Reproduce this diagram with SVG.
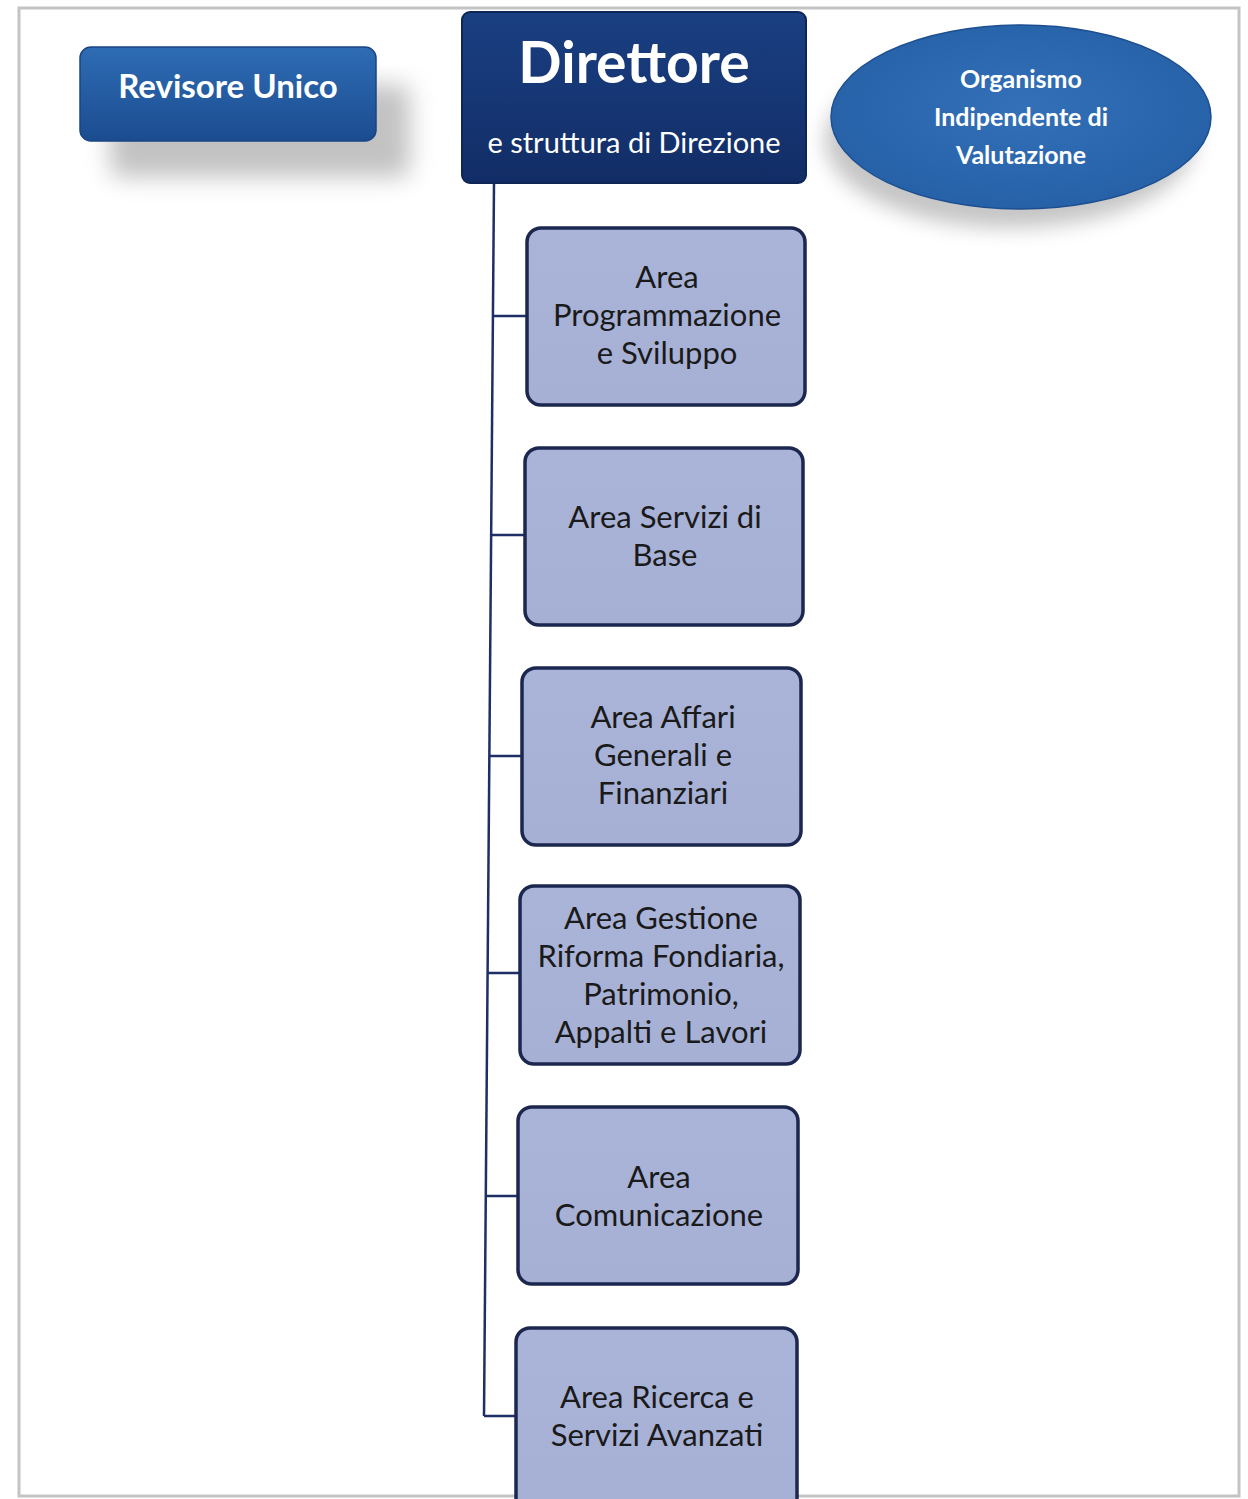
<svg xmlns="http://www.w3.org/2000/svg" width="1248" height="1499" viewBox="0 0 1248 1499">
<style>
.area rect{fill:url(#gArea);stroke:#1c2750;stroke-width:3.5}
.area text{font-family:Lato,"Liberation Sans",sans-serif;font-size:31px;fill:#1a1a1a;text-anchor:middle}
.wt{font-family:Lato,"Liberation Sans",sans-serif;font-weight:bold;fill:#ffffff;text-anchor:middle}
.conn{stroke:#1e2f66;stroke-width:2.5;fill:none}
</style>
<defs>
<linearGradient id="gRev" x1="0" y1="0" x2="0" y2="1">
<stop offset="0" stop-color="#2e6cb4"/><stop offset="1" stop-color="#1b4c90"/>
</linearGradient>
<linearGradient id="gDir" x1="0" y1="0" x2="0" y2="1">
<stop offset="0" stop-color="#1a3f82"/><stop offset="1" stop-color="#122d66"/>
</linearGradient>
<radialGradient id="gOiv" cx="0.5" cy="0.45" r="0.6">
<stop offset="0" stop-color="#3370b8"/><stop offset="1" stop-color="#2560a6"/>
</radialGradient>
<linearGradient id="gArea" x1="0" y1="0" x2="0" y2="1">
<stop offset="0" stop-color="#aab4d8"/><stop offset="1" stop-color="#a6b0d4"/>
</linearGradient>
<filter id="shRev" x="-20%" y="-20%" width="150%" height="180%">
<feGaussianBlur stdDeviation="12"/>
</filter>
<filter id="shOiv" x="-20%" y="-20%" width="140%" height="150%">
<feGaussianBlur stdDeviation="10"/>
</filter>
</defs>
<rect x="0" y="0" width="1248" height="1499" fill="#ffffff"/>
<rect x="19" y="8" width="1220" height="1488" fill="none" stroke="#c4c4c4" stroke-width="3"/>

<g id="connectors">
<path class="conn" d="M494 183 L484 1416"/>
<path class="conn" d="M493 316 H528 M491 535 H526 M490 756 H523 M488 973 H521 M486 1196 H519 M484 1416 H517"/>
</g>

<g id="revisore">
<rect x="110" y="85" width="300" height="92" rx="10" fill="#9a9a9a" opacity="0.6" filter="url(#shRev)"/>
<rect x="80" y="47" width="296" height="94" rx="11" fill="url(#gRev)" stroke="#1a4482" stroke-width="1.5"/>
<text class="wt" x="228" y="98" font-size="33">Revisore Unico</text>
</g>

<g id="direttore">
<rect x="462" y="12" width="344" height="171" rx="8" fill="url(#gDir)" stroke="#0e2656" stroke-width="2"/>
<text class="wt" x="634" y="83" font-size="57">Direttore</text>
<text x="634" y="153" font-family="Lato,'Liberation Sans',sans-serif" font-size="29" fill="#ffffff" text-anchor="middle">e struttura di Direzione</text>
</g>

<g id="oiv">
<ellipse cx="1010" cy="140" rx="185" ry="88" fill="#8c8c8c" opacity="0.5" filter="url(#shOiv)"/>
<ellipse cx="1021" cy="117" rx="190" ry="92" fill="url(#gOiv)" stroke="#1d4f90" stroke-width="1.5"/>
<text class="wt" x="1021" y="88" font-size="25">Organismo</text>
<text class="wt" x="1021" y="126" font-size="25">Indipendente di</text>
<text class="wt" x="1021" y="164" font-size="25">Valutazione</text>
</g>

<g id="area1" class="area">
<rect x="527" y="228" width="278" height="177" rx="14"/>
<text x="667" y="288">Area</text>
<text x="667" y="326">Programmazione</text>
<text x="667" y="364">e Sviluppo</text>
</g>

<g id="area2" class="area">
<rect x="525" y="448" width="278" height="177" rx="14"/>
<text x="665" y="528">Area Servizi di</text>
<text x="665" y="566">Base</text>
</g>

<g id="area3" class="area">
<rect x="522" y="668" width="279" height="177" rx="14"/>
<text x="663" y="728">Area Affari</text>
<text x="663" y="766">Generali e</text>
<text x="663" y="804">Finanziari</text>
</g>

<g id="area4" class="area">
<rect x="520" y="886" width="280" height="178" rx="14"/>
<text x="661" y="929">Area Gestione</text>
<text x="661" y="967">Riforma Fondiaria,</text>
<text x="661" y="1005">Patrimonio,</text>
<text x="661" y="1043">Appalti e Lavori</text>
</g>

<g id="area5" class="area">
<rect x="518" y="1107" width="280" height="177" rx="14"/>
<text x="659" y="1188">Area</text>
<text x="659" y="1226">Comunicazione</text>
</g>

<g id="area6" class="area">
<rect x="516" y="1328" width="281" height="185" rx="14"/>
<text x="657" y="1408">Area Ricerca e</text>
<text x="657" y="1446">Servizi Avanzati</text>
</g>
</svg>
